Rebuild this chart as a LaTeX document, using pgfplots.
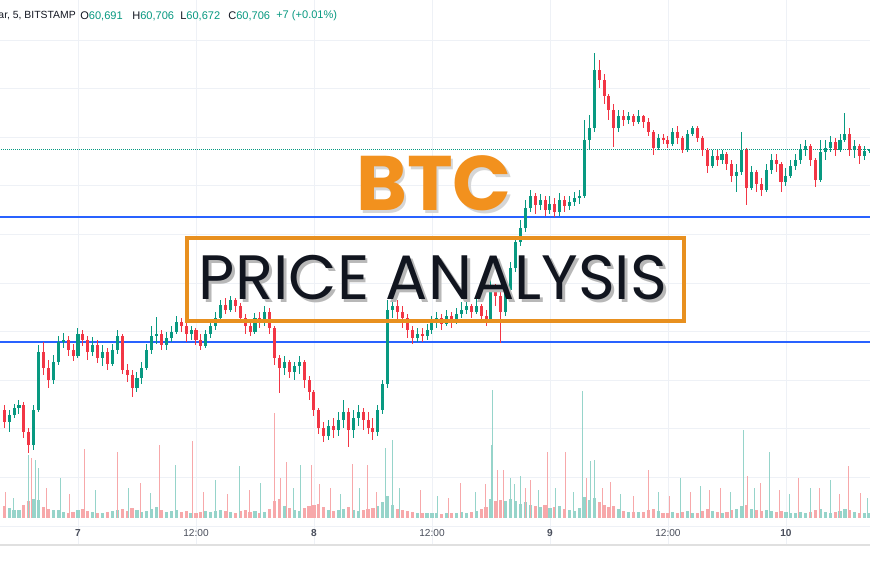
\documentclass[border=0pt]{standalone}
\usepackage{pgfplots}
\pgfplotsset{compat=1.18}
\usepackage{pgfplotstable}
\usepackage{fontspec}
\setmainfont{Liberation Sans}
\newfontfamily\pop{Poppins}
\definecolor{upc}{HTML}{089981}
\definecolor{dnc}{HTML}{F23645}
\definecolor{volup}{RGB}{150,212,202}
\definecolor{voldn}{RGB}{247,168,170}
\definecolor{gridc}{HTML}{EEF1F6}
\definecolor{hdr}{HTML}{131722}
\definecolor{lvl}{HTML}{2962FF}
\definecolor{btc}{HTML}{F2911E}
\definecolor{boxc}{HTML}{E8901F}
\definecolor{labc}{HTML}{4A4F5C}

% h = hours since day 7, 00:00 ; o hi lo c = price ; v = volume
\pgfplotstableread{
h o hi lo c v
-7.5 58100 58150 57920 57980 22
-7 57980 58100 57880 58050 18
-6.5 58050 58160 58020 58120 15
-6 58120 58200 58060 58150 14
-5.5 58150 58180 57820 57880 24
-5 57880 57920 57670 57750 30
-4.5 57750 58150 57700 58100 35
-4 58100 58750 58080 58680 32
-3.5 58680 58780 58450 58520 20
-3 58520 58600 58320 58400 16
-2.5 58400 58650 58360 58580 14
-2 58580 58840 58550 58780 15
-1.5 58780 58870 58720 58800 10
-1 58800 58840 58640 58700 9
-0.5 58700 58760 58590 58640 11
0 58640 58920 58620 58860 14
0.5 58860 58900 58740 58800 16
1 58800 58840 58600 58680 12
1.5 58680 58830 58640 58750 10
2 58750 58800 58570 58620 9
2.5 58620 58750 58540 58680 8
3 58680 58720 58500 58560 10
3.5 58560 58760 58540 58700 12
4 58700 58900 58660 58840 14
4.5 58840 58860 58460 58500 16
5 58500 58560 58380 58450 12
5.5 58450 58500 58230 58320 18
6 58320 58480 58280 58420 14
6.5 58420 58580 58360 58520 10
7 58520 58760 58500 58700 12
7.5 58700 58940 58660 58840 16
8 58840 59030 58760 58860 20
8.5 58860 58900 58700 58750 14
9 58750 58880 58700 58820 10
9.5 58820 58940 58780 58880 12
10 58880 59040 58860 58980 15
10.5 58980 59020 58880 58940 11
11 58940 58980 58780 58860 13
11.5 58860 58940 58800 58900 9
12 58900 58920 58750 58800 8
12.5 58800 58860 58700 58740 10
13 58740 58900 58720 58860 12
13.5 58860 59000 58820 58940 11
14 58940 59080 58900 59020 13
14.5 59020 59200 59000 59150 15
15 59150 59220 59060 59100 12
15.5 59100 59240 59080 59200 10
16 59200 59220 59080 59140 9
16.5 59140 59170 58980 59020 12
17 59020 59060 58860 58940 14
17.5 58940 58980 58840 58880 10
18 58880 59070 58860 59020 12
18.5 59020 59080 58920 58980 9
19 58980 59140 58940 59080 11
19.5 59080 59120 58860 58920 16
20 58920 58940 58550 58620 30
20.5 58620 58650 58270 58520 34
21 58520 58640 58450 58580 22
21.5 58580 58600 58420 58480 18
22 58480 58580 58400 58540 15
22.5 58540 58640 58460 58580 12
23 58580 58600 58320 58400 18
23.5 58400 58440 58200 58280 22
24 58280 58300 58040 58100 24
24.5 58100 58120 57860 57920 26
25 57920 57980 57780 57840 20
25.5 57840 58000 57800 57940 14
26 57940 58020 57820 57900 12
26.5 57900 58080 57840 58000 14
27 58000 58200 57920 58080 16
27.5 58080 58120 57730 57900 20
28 57900 58100 57820 58020 15
28.5 58020 58150 57940 58080 12
29 58080 58120 57900 58000 14
29.5 58000 58080 57860 57920 16
30 57920 58020 57800 57880 18
30.5 57880 58150 57840 58100 22
31 58100 58400 58060 58360 28
31.5 58360 59200 58320 59100 40
32 59100 59220 59020 59140 24
32.5 59140 59200 59000 59080 16
33 59080 59140 58920 59020 14
33.5 59020 59060 58820 58900 12
34 58900 58940 58760 58820 11
34.5 58820 58920 58780 58860 9
35 58860 58920 58780 58840 8
35.5 58840 58960 58800 58900 8
36 58900 59040 58860 58980 9
36.5 58980 59080 58920 59020 8
37 59020 59060 58900 58960 7
37.5 58960 59100 58940 59040 8
38 59040 59080 58920 59000 9
38.5 59000 59120 58960 59060 8
39 59060 59180 59020 59100 10
39.5 59100 59200 59060 59140 9
40 59140 59160 59020 59080 11
40.5 59080 59220 59060 59140 12
41 59140 59160 58980 59040 16
41.5 59040 59100 58940 59000 20
42 59000 59440 58980 59300 35
42.5 59300 59360 59140 59240 30
43 59240 59300 58770 59080 32
43.5 59080 59360 59040 59300 30
44 59300 59580 59260 59520 34
44.5 59520 59840 59480 59780 30
45 59780 60000 59740 59920 26
45.5 59920 60200 59880 60120 28
46 60120 60300 60080 60240 24
46.5 60240 60270 60060 60150 22
47 60150 60260 60100 60200 20
47.5 60200 60240 60040 60100 24
48 60100 60240 60060 60160 18
48.5 60160 60220 60030 60080 20
49 60080 60270 60040 60200 22
49.5 60200 60240 60080 60140 16
50 60140 60240 60100 60180 14
50.5 60180 60280 60140 60220 12
51 60220 60300 60160 60240 18
51.5 60240 61000 60220 60800 38
52 60800 61050 60700 60920 32
52.5 60920 61670 60880 61500 36
53 61500 61600 61320 61400 28
53.5 61400 61460 61160 61240 24
54 61240 61260 61000 61100 20
54.5 61100 61160 60730 60920 22
55 60920 61100 60880 61040 16
55.5 61040 61100 60940 61000 12
56 61000 61080 60960 61040 10
56.5 61040 61060 60940 60980 10
57 60980 61100 60960 61040 11
57.5 61040 61050 60920 60980 10
58 60980 61020 60840 60880 14
58.5 60880 60900 60650 60720 16
59 60720 60860 60700 60820 12
59.5 60820 60860 60760 60800 8
60 60800 60840 60720 60760 8
60.5 60760 60920 60740 60880 10
61 60880 60940 60760 60820 9
61.5 60820 60840 60670 60700 11
62 60700 60900 60680 60860 12
62.5 60860 60940 60840 60920 9
63 60920 60940 60780 60820 8
63.5 60820 60840 60640 60700 12
64 60700 60720 60470 60540 16
64.5 60540 60700 60520 60640 12
65 60640 60700 60540 60600 10
65.5 60600 60700 60560 60660 9
66 60660 60680 60500 60560 10
66.5 60560 60600 60380 60440 14
67 60440 60560 60280 60480 16
67.5 60480 60880 60450 60700 22
68 60700 60720 60150 60320 24
68.5 60320 60540 60300 60480 16
69 60480 60500 60280 60360 14
69.5 60360 60420 60240 60300 12
70 60300 60560 60280 60500 14
70.5 60500 60660 60460 60600 12
71 60600 60660 60480 60560 10
71.5 60560 60580 60280 60380 12
72 60380 60520 60340 60440 10
72.5 60440 60600 60420 60540 8
73 60540 60660 60500 60600 9
73.5 60600 60760 60560 60700 10
74 60700 60800 60640 60740 8
74.5 60740 60760 60540 60600 10
75 60600 60620 60330 60400 14
75.5 60400 60800 60380 60680 16
76 60680 60800 60600 60720 11
76.5 60720 60840 60680 60780 9
77 60780 60820 60640 60700 10
77.5 60700 60860 60680 60800 12
78 60800 61070 60780 60860 16
78.5 60860 60920 60640 60700 14
79 60700 60800 60620 60740 10
79.5 60740 60760 60560 60640 9
80 60640 60740 60600 60691 8
80.5 60691 60706 60672 60706 8
}\candles

% volume spikes: h, volume, d (1 = up bar, 0 = down bar)
\pgfplotstableread{
h v d
-7.42 26 0
-6.60 20 1
-5.08 63 1
-4.78 60 0
-4.37 58 1
-4.07 50 1
-3.20 30 0
-1.83 40 1
-0.90 24 0
0.61 69 0
1.80 28 1
3.97 66 0
5.10 30 1
6.31 35 0
7.40 25 1
8.24 73 0
9.86 53 1
11.59 77 0
12.80 26 0
13.93 38 1
15.20 24 0
16.37 52 1
17.40 28 0
18.51 35 1
19.93 105 0
20.60 40 0
21.15 56 0
21.90 30 1
22.58 53 1
23.70 53 0
24.60 34 0
25.63 30 0
26.70 24 1
27.87 54 0
28.60 30 1
29.39 53 0
30.40 26 0
31.22 70 1
31.93 78 1
32.70 30 1
34.78 28 0
36.60 22 1
37.70 20 0
38.85 35 0
40.40 26 1
41.40 34 0
42.00 73 1
42.10 128 1
42.61 48 0
43.22 48 0
43.93 40 1
44.40 34 1
44.95 42 1
45.50 30 0
45.97 38 0
46.80 28 1
47.70 66 0
48.60 30 1
49.53 66 0
50.40 26 1
51.26 127 1
51.70 40 0
52.07 57 1
52.48 58 1
53.30 30 0
54.10 36 0
55.20 24 1
56.50 22 0
57.97 48 0
59.00 26 1
60.10 22 0
61.22 40 1
62.30 26 0
63.26 32 1
64.20 28 0
65.29 30 0
66.40 26 1
67.63 88 1
68.03 42 0
68.80 30 1
69.36 35 0
70.27 66 1
71.30 28 0
72.40 24 1
73.22 40 0
74.44 30 1
75.40 30 0
76.48 38 1
77.40 24 0
78.31 52 0
79.53 25 0
80.30 20 1
}\spikes

\newcommand{\PX}[2]{({(#1)*0.75pt},{(545-(#2))*0.75pt})}

\pgfplotsset{
  candle/.style 2 args={only marks, mark=*, mark size=0pt,
    mark options={draw=none, fill=none},
    error bars/y dir=both, error bars/y explicit, error bars/error mark=none,
    error bars/error bar style={line width=#1, draw=#2}},
}

\begin{document}
\begin{tikzpicture}
\useasboundingbox (0,-26.25pt) rectangle (652.5pt,408.75pt);
\fill[white] (0,-26.25pt) rectangle (652.5pt,408.75pt);

% grid and time scale
\begin{axis}[
  at={(0,0)}, anchor=south west,
  scale only axis, width=652.5pt, height=408.75pt,
  xmin=-7.93, xmax=80.55, ymin=56750, ymax=62200,
  axis line style={draw=none},
  xtick={0,12,24,36,48,60,72},
  xticklabels={\textbf{7},12:00,\textbf{8},12:00,\textbf{9},12:00,\textbf{10}},
  xticklabel style={anchor=center, yshift=9pt, font=\fontsize{7.6}{9}\selectfont, text=labc},
  ytick=\empty,
  major tick length=0pt,
  xmajorgrids, grid style={draw=gridc, line width=0.6pt},
  clip=true,
]
% horizontal price grid (price scale itself is off the picture)
\pgfplotsinvokeforeach{56940,57426,57912,58398,58884,59370,59856,60342,60828,61314,61800}{
  \draw[draw=gridc, line width=0.6pt] (axis cs:-8,#1) -- (axis cs:81,#1);
}
\end{axis}

% volume pane: typical level per half hour (carpet) and single large bars
\begin{axis}[
  at={(0,0)}, anchor=south west,
  scale only axis, width=652.5pt, height=408.75pt,
  xmin=-7.93, xmax=80.55, ymin=-50, ymax=950,
  hide axis, clip=true,
]
\addplot[ycomb, line width=2.4pt, draw=volup, restrict expr to domain={\thisrow{c}-\thisrow{o}}{0:100000}] table[x=h, y=v] {\candles};
\addplot[ycomb, line width=2.4pt, draw=voldn, restrict expr to domain={\thisrow{c}-\thisrow{o}}{-100000:-0.5}] table[x=h, y=v] {\candles};
\end{axis}
\begin{axis}[
  at={(0,0)}, anchor=south west,
  scale only axis, width=652.5pt, height=408.75pt,
  xmin=-7.93, xmax=80.55, ymin=-27, ymax=518,
  hide axis, clip=true,
]
\addplot[ycomb, line width=0.6pt, draw=volup, restrict expr to domain={\thisrow{d}}{0.5:1.5}] table[x=h, y=v] {\spikes};
\addplot[ycomb, line width=0.6pt, draw=voldn, restrict expr to domain={\thisrow{d}}{-0.5:0.5}] table[x=h, y=v] {\spikes};
\end{axis}

% price pane
\begin{axis}[
  at={(0,0)}, anchor=south west,
  scale only axis, width=652.5pt, height=408.75pt,
  xmin=-7.93, xmax=80.55, ymin=56750, ymax=62200,
  hide axis, clip=true,
]
\addplot[draw=lvl, line width=1.1pt] coordinates {(-8,60030) (81,60030)};
\addplot[draw=lvl, line width=1.1pt] coordinates {(-8,58780) (81,58780)};
\addplot[draw=upc, densely dotted, line width=0.5pt] coordinates {(-8,60706) (81,60706)};
% wicks
\addplot[restrict expr to domain={\thisrow{c}-\thisrow{o}}{0:100000}, candle={0.75pt}{upc}]
  table[x=h, y expr={(\thisrow{hi}+\thisrow{lo})/2}, y error expr={(\thisrow{hi}-\thisrow{lo})/2}] {\candles};
\addplot[restrict expr to domain={\thisrow{c}-\thisrow{o}}{-100000:-0.5}, candle={0.75pt}{dnc}]
  table[x=h, y expr={(\thisrow{hi}+\thisrow{lo})/2}, y error expr={(\thisrow{hi}-\thisrow{lo})/2}] {\candles};
% bodies
\addplot[restrict expr to domain={\thisrow{c}-\thisrow{o}}{0:100000}, candle={2.3pt}{upc}]
  table[x=h, y expr={(\thisrow{o}+\thisrow{c})/2}, y error expr={abs(\thisrow{c}-\thisrow{o})/2}] {\candles};
\addplot[restrict expr to domain={\thisrow{c}-\thisrow{o}}{-100000:-0.5}, candle={2.3pt}{dnc}]
  table[x=h, y expr={(\thisrow{o}+\thisrow{c})/2}, y error expr={abs(\thisrow{c}-\thisrow{o})/2}] {\candles};
\end{axis}

% bottom border of the time scale
\draw[draw=black!12, line width=0.8pt] (0,0) -- (652.5pt,0);

% header
\begin{scope}[every node/.style={anchor=west, inner sep=0pt, font=\fontsize{8.3}{10}\selectfont}]
\node[text=hdr, anchor=east, font=\fontsize{7.8}{10}\selectfont] at \PX{76}{16} {ar, 5, BITSTAMP};
\node at \PX{80}{16} {\textcolor{hdr}{O}\textcolor{upc}{60,691}};
\node at \PX{132}{16} {\textcolor{hdr}{H}\textcolor{upc}{60,706}};
\node at \PX{180}{16} {\textcolor{hdr}{L}\textcolor{upc}{60,672}};
\node at \PX{228}{16} {\textcolor{hdr}{C}\textcolor{upc}{60,706}};
\node[text=upc] at \PX{276}{16} {+7 (+0.01\%)};
\end{scope}

% title overlay (text with a soft drop shadow)
\node[font=\pop\bfseries\fontsize{58}{58}\selectfont] at \PX{434}{185}
  {\makebox[0pt][l]{\hspace{2pt}\raisebox{-2pt}{\textcolor{black!16}{BTC}}}\textcolor{btc}{BTC}};
\draw[draw=boxc, line width=2.3pt] \PX{187}{238} rectangle \PX{684}{321};
\node[font=\pop\fontsize{47}{47}\selectfont] at \PX{433}{279}
  {\makebox[0pt][l]{\hspace{2.2pt}\raisebox{-2.2pt}{\textcolor{black!28}{PRICE ANALYSIS}}}\textcolor{hdr!90!black}{PRICE ANALYSIS}};
\end{tikzpicture}
\end{document}
